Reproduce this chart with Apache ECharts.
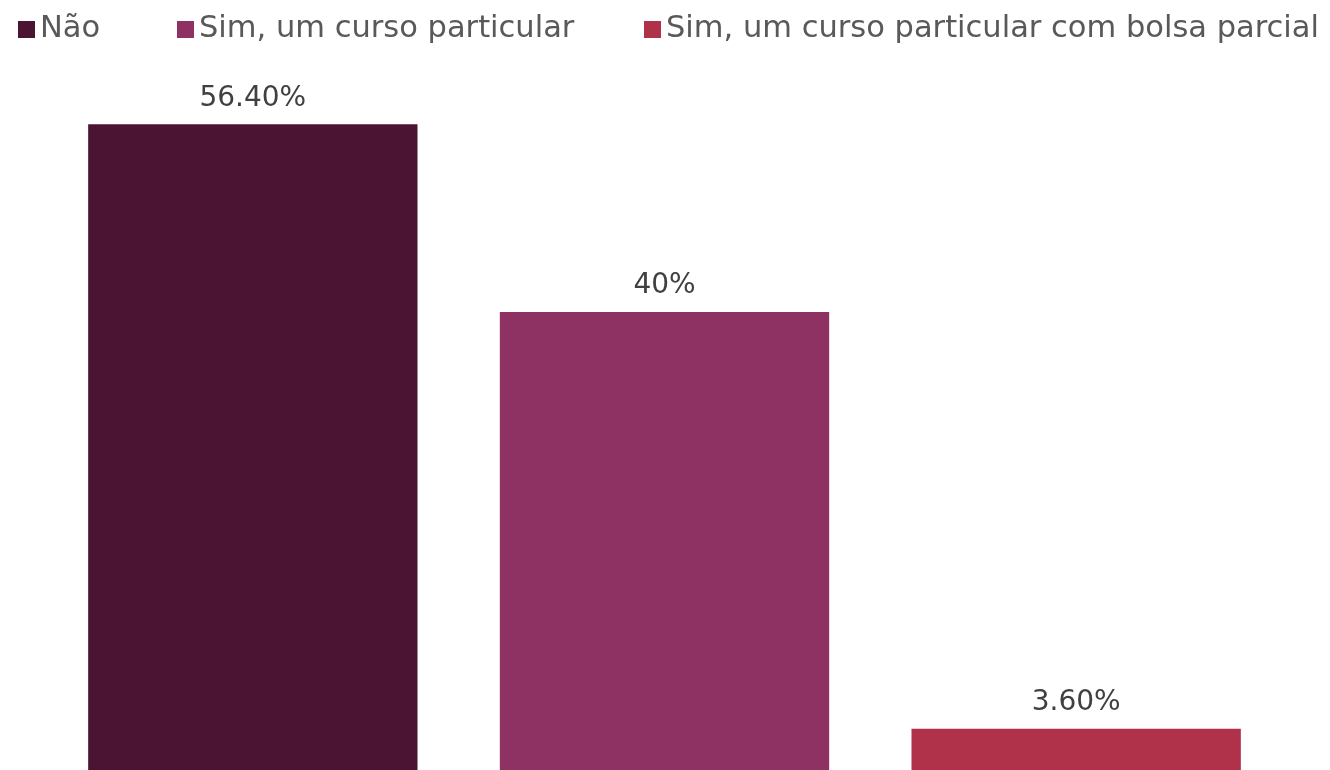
<!DOCTYPE html>
<html>
<head>
<meta charset="utf-8">
<script src="https://cdn.jsdelivr.net/npm/echarts@6/dist/echarts.min.js"></script>
<style>
  html, body { margin: 0; padding: 0; background: #fff; }
  #chart { width: 1330px; height: 770px; }
</style>
</head>
<body>
<div id="chart"></div>
<script>
const categories = ['Não', 'Sim, um curso particular', 'Sim, um curso particular com bolsa parcial']
const values = [56.4, 40, 3.6]
const labels = ['56.40%', '40%', '3.60%']
const colors = ['#4B1432', '#8E3163', '#B0314A']

const font = "'Century Gothic', 'DejaVu Sans', sans-serif"
// legend item x positions (the legend adds its own 5px padding)
const legendLeft = [13, 172, 639]

const chart = echarts.init(document.getElementById('chart'))

const series = categories.map((name, i) => ({
  name: name,
  type: 'bar',
  stack: 'all',
  barWidth: '80%',
  itemStyle: { color: colors[i] },
  label: {
    show: true,
    position: 'top',
    distance: 12,
    color: '#404040',
    fontFamily: font,
    fontSize: 28,
    formatter: () => labels[i]
  },
  data: categories.map((c, j) => (j === i ? values[i] : null))
}))

chart.setOption({
  backgroundColor: '#fff',
  animation: false,
  legend: categories.map((name, i) => ({
    data: [name],
    left: legendLeft[i],
    top: 9,
    icon: 'rect',
    itemWidth: 17,
    itemHeight: 17,
    itemGap: 0,
    textStyle: {
      color: '#595959',
      fontFamily: font,
      fontSize: 30.5
    }
  })),
  grid: {
    left: 47,
    right: 48,
    top: 83,
    bottom: 0,
    containLabel: false
  },
  xAxis: {
    type: 'category',
    data: categories,
    show: false
  },
  yAxis: {
    type: 'value',
    min: 0,
    max: 60,
    show: false
  },
  series: series
})
</script>
</body>
</html>
